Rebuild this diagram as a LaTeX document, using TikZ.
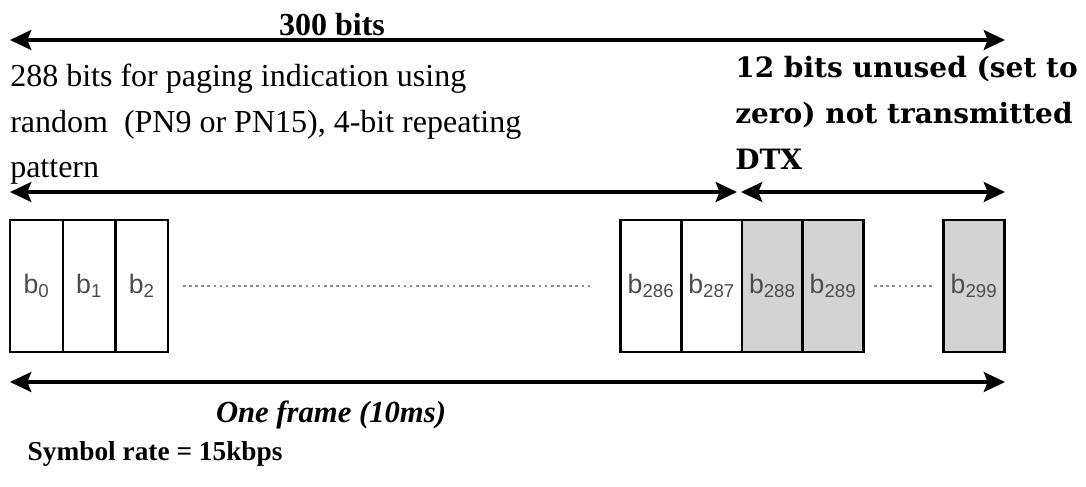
\documentclass[tikz,border=0pt]{standalone}
\usepackage{fontspec}
\setmainfont{Liberation Serif}
\setsansfont{Liberation Sans}
\newfontfamily\slabfont{DejaVu Serif}
\usetikzlibrary{arrows.meta, positioning}
\definecolor{cellgray}{RGB}{211,211,211}

\begin{document}
\begin{tikzpicture}[x=0.75pt, y=-0.75pt,
          >={Stealth[length=16pt, width=15pt, inset=3pt]},
          span/.style={<->, line width=2.3pt},
          cell/.style={draw, line width=1.8pt, minimum height=99pt,
                       inner sep=0pt, outer sep=0pt, text=black!70,
                       font=\sffamily\fontsize{20}{20}\selectfont},
          narrow/.style={cell, minimum width=39.5pt},
          wide/.style={cell, minimum width=45.5pt},
          unused/.style={wide, fill=cellgray},
          gap/.style={draw=gray!90, line width=1.7pt, dash pattern=on 2pt off 2.6pt}]
        \useasboundingbox (0,0) rectangle (1086,486);
        \node[narrow]                      (b0)   at (36.5,286) {b\textsubscript{0}};
        \node[narrow,  right=0pt of b0]    (b1)   {b\textsubscript{1}};
        \node[narrow,  right=0pt of b1]    (b2)   {b\textsubscript{2}};
        \node[wide]                        (b286) at (651,286) {b\textsubscript{286}};
        \node[wide,    right=0pt of b286]  (b287) {b\textsubscript{287}};
        \node[unused,  right=0pt of b287]  (b288) {b\textsubscript{288}};
        \node[unused,  right=0pt of b288]  (b289) {b\textsubscript{289}};
        \node[unused]                      (b299) at (974,286) {b\textsubscript{299}};
        \draw[gap] ([xshift=11pt]b2.east) -- ([xshift=-22pt]b286.west);
        \draw[gap] ([xshift=8pt]b289.east) -- ([xshift=-8pt]b299.west);
        \coordinate (allL)  at (10,40);
        \coordinate (allR)  at (1005,40);
        \coordinate (pageL) at (10,192);
        \coordinate (pageR) at (737,192);
        \coordinate (dtxL)  at (741,192);
        \coordinate (dtxR)  at (1005,192);
        \coordinate (frmL)  at (10,382);
        \coordinate (frmR)  at (1005,382);
        \draw[span] (allL) -- (allR);
        \draw[span] (pageL) -- (pageR);
        \draw[span] (dtxL) -- (dtxR);
        \draw[span] (frmL) -- (frmR);
        \node[anchor=base, font=\bfseries\fontsize{24}{24}\selectfont]
             (total) at (332,35) {300 bits};
        \node[anchor=north west, inner sep=0pt, align=left,
              font=\fontsize{24}{34}\selectfont] (paging) at (10,64)
             {288 bits for paging indication using\\
              random\ \ (PN9 or PN15), 4-bit repeating\\
              pattern};
        \node[anchor=north west, inner sep=0pt, align=left,
              font=\slabfont\bfseries\fontsize{21}{34.5}\selectfont] (dtx) at (735,56)
             {12 bits unused (set to\\
              zero) not transmitted\\
              DTX};
        \node[anchor=base, font=\bfseries\itshape\fontsize{23}{23}\selectfont]
             (frame) at (331,422) {One frame (10ms)};
        \node[anchor=base west, font=\bfseries\fontsize{20.5}{20.5}\selectfont]
             (rate) at (23,460) {Symbol rate = 15kbps};
      \end{tikzpicture}
\end{document}
